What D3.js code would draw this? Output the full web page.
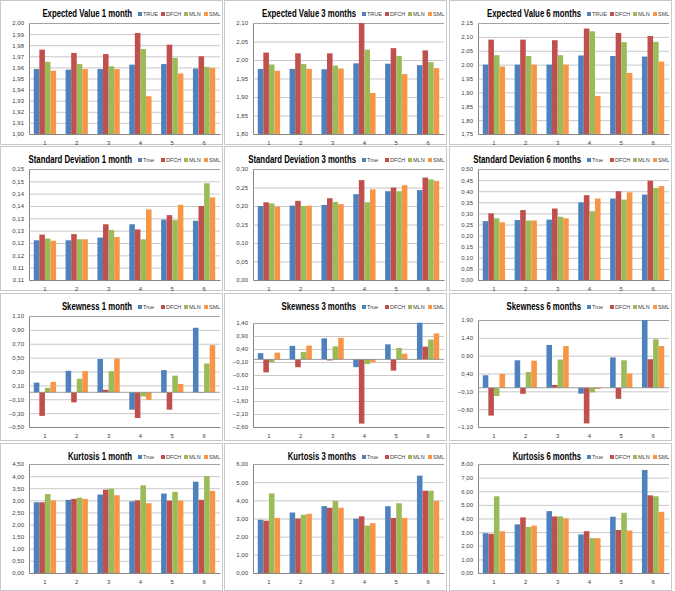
<!DOCTYPE html>
<html>
<head>
<meta charset="utf-8">
<script src="https://cdn.jsdelivr.net/npm/d3@7"></script>
<style>
  body { margin: 0; background: #fff; }
  svg { display: block; }
  text { font-family: "Liberation Sans", Arial, sans-serif; }
</style>
</head>
<body>
<div id="chart"></div>
<script>
// 1: DATA
const categories = ["1", "2", "3", "4", "5", "6"];
const seriesUpper = ["TRUE", "DFCH", "MLN", "SML"];
const seriesLower = ["True", "DFCH", "MLN", "SML"];

// values per panel: rows = True, DFCH, MLN, SML
const ev1m = [
  [1.9585, 1.958, 1.9585, 1.9625, 1.963, 1.959],
  [1.976, 1.973, 1.972, 1.991, 1.9805, 1.970],
  [1.965, 1.963, 1.961, 1.9765, 1.9685, 1.9605],
  [1.957, 1.9585, 1.9585, 1.934, 1.9545, 1.9595]
];
const ev3m = [
  [1.976, 1.976, 1.975, 1.991, 1.990, 1.986],
  [2.020, 2.018, 2.018, 2.100, 2.032, 2.026],
  [1.988, 1.989, 1.985, 2.028, 2.011, 1.994],
  [1.971, 1.976, 1.977, 1.911, 1.962, 1.978]
];
const ev6m = [
  [2.000, 2.000, 2.000, 2.033, 2.031, 2.029],
  [2.090, 2.090, 2.088, 2.130, 2.114, 2.103],
  [2.034, 2.031, 2.034, 2.120, 2.081, 2.082],
  [1.993, 2.000, 2.000, 1.887, 1.970, 2.011]
];
const sd1m = [
  [0.1261, 0.1261, 0.1272, 0.1326, 0.1345, 0.1340],
  [0.1284, 0.1286, 0.1326, 0.1305, 0.1363, 0.1400],
  [0.1268, 0.1265, 0.1303, 0.1265, 0.1343, 0.1492],
  [0.1259, 0.1265, 0.1274, 0.1386, 0.1405, 0.1435]
];
const sd3m = [
  [0.200, 0.201, 0.203, 0.232, 0.240, 0.243],
  [0.210, 0.214, 0.221, 0.270, 0.250, 0.277],
  [0.207, 0.200, 0.211, 0.210, 0.240, 0.272],
  [0.198, 0.201, 0.205, 0.245, 0.256, 0.268]
];
const sd6m = [
  [0.265, 0.270, 0.272, 0.350, 0.367, 0.385],
  [0.300, 0.315, 0.322, 0.382, 0.400, 0.447],
  [0.278, 0.268, 0.285, 0.310, 0.362, 0.415],
  [0.260, 0.268, 0.278, 0.367, 0.395, 0.423]
];
const sk1m = [
  [0.14, 0.31, 0.48, -0.25, 0.32, 0.93],
  [-0.34, -0.145, 0.036, -0.37, -0.25, -0.007],
  [0.065, 0.195, 0.305, -0.06, 0.24, 0.415],
  [0.15, 0.305, 0.487, -0.11, 0.12, 0.68]
];
const sk3m = [
  [0.24, 0.52, 0.81, -0.30, 0.58, 1.41],
  [-0.50, -0.30, -0.04, -2.47, -0.43, 0.49],
  [-0.11, 0.29, 0.50, -0.18, 0.44, 0.76],
  [0.26, 0.53, 0.83, -0.11, 0.22, 1.00]
];
const sk6m = [
  [0.35, 0.77, 1.20, -0.165, 0.85, 1.90],
  [-0.78, -0.17, 0.08, -1.00, -0.31, 0.80],
  [-0.23, 0.44, 0.79, -0.13, 0.77, 1.36],
  [0.39, 0.76, 1.17, -0.035, 0.40, 1.17]
];
const ku1m = [
  [2.92, 3.02, 3.24, 2.96, 3.28, 3.77],
  [2.92, 3.06, 3.44, 3.00, 2.99, 3.02],
  [3.26, 3.11, 3.48, 3.62, 3.35, 4.00],
  [3.00, 3.06, 3.21, 2.88, 2.99, 3.39]
];
const ku3m = [
  [2.93, 3.33, 3.68, 2.99, 3.68, 5.36],
  [2.88, 3.00, 3.59, 3.12, 3.03, 4.53],
  [4.38, 3.21, 3.97, 2.61, 3.84, 4.53],
  [3.03, 3.26, 3.59, 2.74, 3.03, 3.97]
];
const ku6m = [
  [2.92, 3.57, 4.54, 2.83, 4.13, 7.56],
  [2.87, 4.08, 4.15, 3.07, 3.16, 5.70],
  [5.63, 3.38, 4.15, 2.56, 4.42, 5.63],
  [3.07, 3.48, 4.01, 2.56, 3.12, 4.49]
];

// axis ticks (bottom to top) and their printed labels
const ev1mTicks = [1.90, 1.91, 1.92, 1.93, 1.94, 1.95, 1.96, 1.97, 1.98, 1.99, 2.00];
const ev3mTicks = [1.80, 1.85, 1.90, 1.95, 2.00, 2.05, 2.10];
const ev6mTicks = [1.75, 1.80, 1.85, 1.90, 1.95, 2.00, 2.05, 2.10, 2.15];
const sd1mTicks = [0.110, 0.115, 0.120, 0.125, 0.130, 0.135, 0.140, 0.145, 0.150, 0.155];
const sd1mLabels = ["0,11", "0,11", "0,12", "0,12", "0,13", "0,13", "0,14", "0,14", "0,15", "0,15"];
const sd3mTicks = [0, 0.05, 0.10, 0.15, 0.20, 0.25, 0.30];
const sd6mTicks = [0, 0.05, 0.10, 0.15, 0.20, 0.25, 0.30, 0.35, 0.40, 0.45, 0.50];
const sk1mTicks = [-0.50, -0.30, -0.10, 0.10, 0.30, 0.50, 0.70, 0.90, 1.10];
const sk3mTicks = [-2.60, -2.10, -1.60, -1.10, -0.60, -0.10, 0.40, 0.90, 1.40];
const sk6mTicks = [-1.10, -0.60, -0.10, 0.40, 0.90, 1.40, 1.90];
const ku1mTicks = [0, 0.5, 1, 1.5, 2, 2.5, 3, 3.5, 4, 4.5];
const ku3mTicks = [0, 1, 2, 3, 4, 5, 6];
const ku6mTicks = [0, 1, 2, 3, 4, 5, 6, 7, 8];

const colors = ["#4F81BD", "#C0504D", "#9BBB59", "#F79646"];

// 2: LAYOUT
const W = 675, H = 591;
const colX = [0, 224, 449];
const rowY = [0, 146, 293, 443];
const panelW = 223;
const rowH = [145, 145, 148, 148];

const fmt = v => d3.format(".2f")(v).replace(".", ",");

const panels = [
  { title: "Expected Value 1 month", values: ev1m, ticks: ev1mTicks, names: seriesUpper, col: 0, row: 0, top: 23, bottom: 134 },
  { title: "Expected Value 3 months", values: ev3m, ticks: ev3mTicks, names: seriesUpper, col: 1, row: 0, top: 23, bottom: 134 },
  { title: "Expected Value 6 months", values: ev6m, ticks: ev6mTicks, names: seriesUpper, col: 2, row: 0, top: 23, bottom: 134 },
  { title: "Standard Deviation 1 month", values: sd1m, ticks: sd1mTicks, labels: sd1mLabels, names: seriesLower, col: 0, row: 1, top: 23, bottom: 134 },
  { title: "Standard Deviation 3 months", values: sd3m, ticks: sd3mTicks, names: seriesLower, col: 1, row: 1, top: 23, bottom: 134 },
  { title: "Standard Deviation 6 months", values: sd6m, ticks: sd6mTicks, names: seriesLower, col: 2, row: 1, top: 23, bottom: 134 },
  { title: "Skewness 1 month", values: sk1m, ticks: sk1mTicks, names: seriesLower, col: 0, row: 2, top: 23, bottom: 134 },
  { title: "Skewness 3 months", values: sk3m, ticks: sk3mTicks, names: seriesLower, col: 1, row: 2, top: 30, bottom: 134 },
  { title: "Skewness 6 months", values: sk6m, ticks: sk6mTicks, names: seriesLower, col: 2, row: 2, top: 27, bottom: 134 },
  { title: "Kurtosis 1 month", values: ku1m, ticks: ku1mTicks, names: seriesLower, col: 0, row: 3, top: 21, bottom: 130 },
  { title: "Kurtosis 3 months", values: ku3m, ticks: ku3mTicks, names: seriesLower, col: 1, row: 3, top: 21, bottom: 130 },
  { title: "Kurtosis 6 months", values: ku6m, ticks: ku6mTicks, names: seriesLower, col: 2, row: 3, top: 21, bottom: 130 }
];

const svg = d3.select("#chart").append("svg")
  .attr("width", W).attr("height", H);

svg.append("rect").attr("width", W).attr("height", H).attr("fill", "#fff");

const plotLeft = 29, plotRight = 220;
const titleSqueeze = 0.78; // the source font is a narrow one

panels.forEach(p => {
  const g = svg.append("g")
    .attr("transform", `translate(${colX[p.col]},${rowY[p.row]})`);

  // panel border
  g.append("rect")
    .attr("x", 0.5).attr("y", 0.5)
    .attr("width", panelW - 1).attr("height", rowH[p.row] - 1)
    .attr("fill", "#fff")
    .attr("stroke", "#c8c8c8");

  const yScale = d3.scaleLinear()
    .domain([p.ticks[0], p.ticks[p.ticks.length - 1]])
    .range([p.bottom, p.top]);

  const x0 = d3.scaleBand()
    .domain(categories)
    .range([plotLeft, plotRight])
    .paddingInner(0.3)
    .paddingOuter(0.15);

  const x1 = d3.scaleBand()
    .domain(d3.range(4))
    .range([0, x0.bandwidth()]);

  // gridlines + y labels
  const labelOf = (d, i) => p.labels ? p.labels[i] : fmt(d);
  const yAxis = d3.axisLeft(yScale)
    .tickValues(p.ticks)
    .tickSize(-(plotRight - plotLeft))
    .tickPadding(5)
    .tickFormat(labelOf);

  const ya = g.append("g")
    .attr("transform", `translate(${plotLeft},0)`)
    .call(yAxis);
  ya.select(".domain").attr("stroke", "#868686");
  ya.selectAll(".tick line").attr("stroke", "#b0b0b0").attr("stroke-width", 0.7);
  ya.selectAll(".tick text")
    .attr("fill", "#404040")
    .style("font-size", "6px");

  // bars
  const base = Math.max(p.ticks[0], Math.min(0, p.ticks[p.ticks.length - 1]));
  p.values.forEach((vals, s) => {
    g.append("g").selectAll("rect")
      .data(vals)
      .enter()
      .append("rect")
      .attr("x", (d, i) => x0(categories[i]) + x1(s))
      .attr("width", x1.bandwidth())
      .attr("y", d => yScale(Math.max(d, base)))
      .attr("height", d => Math.abs(yScale(d) - yScale(base)))
      .attr("fill", colors[s]);
  });

  // zero line for charts crossing zero
  if (p.ticks[0] < 0) {
    g.append("line")
      .attr("x1", plotLeft).attr("x2", plotRight)
      .attr("y1", yScale(0)).attr("y2", yScale(0))
      .attr("stroke", "#868686").attr("stroke-width", 0.8);
  }

  // bottom axis labels
  const xa = g.append("g")
    .attr("transform", `translate(0,${p.bottom})`)
    .call(d3.axisBottom(x0).tickSize(0).tickPadding(7));
  xa.select(".domain").attr("stroke", "#868686");
  xa.selectAll(".tick text")
    .attr("fill", "#404040")
    .style("font-size", "6px");

  // title (squeezed horizontally to look like the narrow source font)
  const legendX = 138;
  g.append("text")
    .attr("transform", `translate(${legendX - 6},17) scale(${titleSqueeze},1)`)
    .attr("text-anchor", "end")
    .style("font-size", "10px")
    .style("font-weight", "bold")
    .attr("fill", "#000")
    .text(p.title);

  // legend
  const legendOffsets = [0, 23, 46, 66];
  const leg = g.selectAll(".legend")
    .data(p.names)
    .enter()
    .append("g")
    .attr("transform", (d, i) => `translate(${legendX + legendOffsets[i]},11)`);
  leg.append("rect")
    .attr("width", 4).attr("height", 4)
    .attr("y", 1)
    .attr("fill", (d, i) => colors[i]);
  leg.append("text")
    .attr("x", 5).attr("y", 5.3)
    .style("font-size", "5.5px")
    .attr("fill", "#404040")
    .text(d => d);
});
</script>
</body>
</html>
